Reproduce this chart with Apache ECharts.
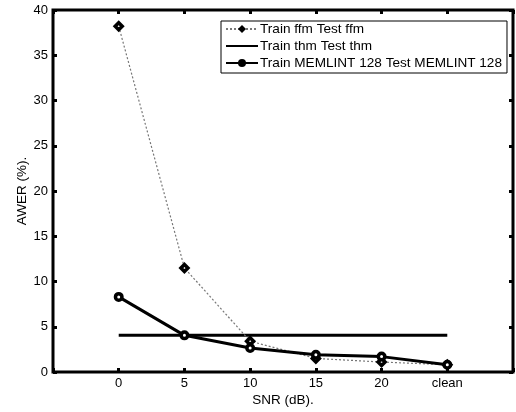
<!DOCTYPE html>
<html>
<head>
<meta charset="utf-8">
<script src="https://cdn.jsdelivr.net/npm/echarts@6/dist/echarts.min.js"></script>
<style>
  html, body { margin: 0; padding: 0; background: #fff; }
  #chart { width: 516px; height: 412px; }
</style>
</head>
<body>
<div id="chart"></div>
<script>
  // x categories (SNR in dB)
  var categories = ['0', '5', '10', '15', '20', 'clean']
  var yTicks = [0, 5, 10, 15, 20, 25, 30, 35, 40]
  // AWER (%) per condition
  var ffmValues = [38.2, 11.5, 3.4, 1.5, 1.1, 0.8]
  var thmValues = [4.05, 4.05, 4.05, 4.05, 4.05, 4.05]
  var memlintValues = [8.3, 4.05, 2.65, 1.9, 1.7, 0.8]

  function pairs (vals) {
    return vals.map(function (v, i) { return [i, v] })
  }

  var font = 'Liberation Sans, Arial, Helvetica, sans-serif'
  var chart = echarts.init(document.getElementById('chart'))

  var tick = { inside: true, length: 4, lineStyle: { color: '#000', width: 3 } }
  var hiddenAxis = {
    axisLine: { show: false, onZero: false },
    axisLabel: { show: false },
    splitLine: { show: false },
    axisTick: tick
  }

  var option = {
    animation: false,
    backgroundColor: '#fff',
    grid: {
      left: 53, right: 3, top: 10, bottom: 37,
      show: true, borderColor: '#000', borderWidth: 3
    },
    legend: {
      orient: 'vertical',
      left: 221,
      top: 21,
      padding: [1, 5, 3, 4],
      itemWidth: 32,
      itemHeight: 10,
      itemGap: 3,
      backgroundColor: '#fff',
      borderColor: '#000',
      borderWidth: 1,
      borderRadius: 0,
      textStyle: { fontFamily: font, fontSize: 13.6, lineHeight: 13, color: '#000', padding: [0, 0, 0, -3] },
      data: [
        { name: 'Train ffm Test ffm', itemStyle: { color: '#000', borderWidth: 0 } },
        { name: 'Train thm Test thm', itemStyle: { color: 'rgba(0,0,0,0)', borderWidth: 0 } },
        { name: 'Train MEMLINT 128 Test MEMLINT 128', itemStyle: { color: '#000', borderWidth: 0 } }
      ]
    },
    xAxis: [
      {
        type: 'value',
        min: -1, max: 6, interval: 1,
        name: 'SNR (dB).',
        nameLocation: 'middle',
        nameGap: 21,
        nameMoveOverlap: false,
        nameTextStyle: { fontFamily: font, fontSize: 13.5, color: '#000' },
        axisLine: { show: false, onZero: false },
        axisTick: tick,
        axisLabel: {
          fontFamily: font, fontSize: 13, color: '#000', margin: 5,
          formatter: function (v) { return categories[v] !== undefined ? categories[v] : '' }
        },
        splitLine: { show: false }
      },
      Object.assign({ type: 'value', position: 'top', min: -1, max: 6, interval: 1 }, hiddenAxis)
    ],
    yAxis: [
      {
        type: 'value',
        min: yTicks[0], max: yTicks[yTicks.length - 1], interval: 5,
        name: 'AWER (%).',
        nameLocation: 'middle',
        nameGap: 24,
        nameMoveOverlap: false,
        nameTextStyle: { fontFamily: font, fontSize: 13.5, color: '#000' },
        axisLine: { show: false, onZero: false },
        axisTick: tick,
        axisLabel: { fontFamily: font, fontSize: 13, color: '#000', margin: 5 },
        splitLine: { show: false }
      },
      Object.assign({ type: 'value', position: 'right', min: 0, max: 40, interval: 5 }, hiddenAxis)
    ],
    series: [
      {
        name: 'Train ffm Test ffm',
        type: 'line',
        data: pairs(ffmValues),
        symbol: 'diamond',
        symbolSize: 7,
        itemStyle: { color: '#fff', borderColor: '#000', borderWidth: 3.5 },
        lineStyle: { color: '#777', width: 1.2, type: [2, 2] },
        z: 3
      },
      {
        name: 'Train thm Test thm',
        type: 'line',
        data: pairs(thmValues),
        symbol: 'none',
        itemStyle: { color: '#000' },
        lineStyle: { color: '#000', width: 3 },
        z: 2
      },
      {
        name: 'Train MEMLINT 128 Test MEMLINT 128',
        type: 'line',
        data: pairs(memlintValues),
        symbol: 'circle',
        symbolSize: 6.5,
        itemStyle: { color: '#fff', borderColor: '#000', borderWidth: 3.5 },
        lineStyle: { color: '#000', width: 3 },
        z: 4
      }
    ]
  }
  chart.setOption(option)
</script>
</body>
</html>
